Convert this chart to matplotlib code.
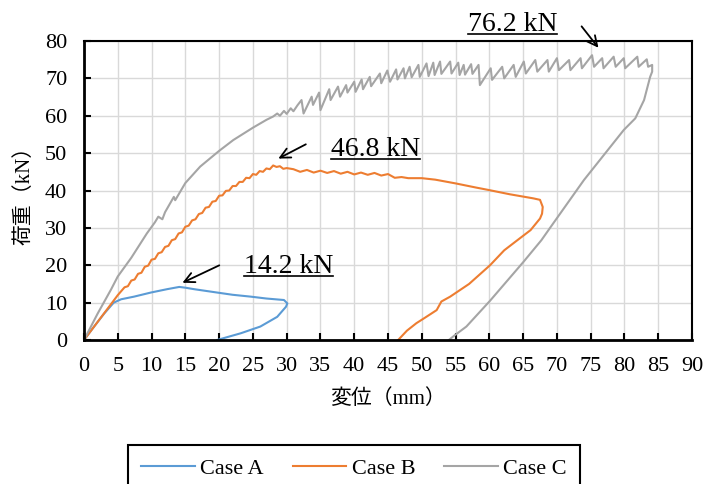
import matplotlib
matplotlib.use("Agg")
import matplotlib.pyplot as plt
from matplotlib.lines import Line2D

plt.rcParams['font.family'] = ['Liberation Serif', 'Noto Sans CJK JP']

# Case A
a_x = [0, 1.5, 3.0, 4.4, 5.5, 7.4, 9.9, 12.3, 14.1, 15, 16.3, 19.7, 22, 24.7, 27, 29.6,
       30.1, 29.9, 28.6, 26.1, 23.2, 19.7]
a_y = [0, 3.6, 7.1, 10.0, 10.9, 11.6, 12.7, 13.6, 14.2, 14.0, 13.6, 12.7, 12.1, 11.6, 11.1, 10.7,
       9.8, 8.9, 6.2, 3.6, 1.8, 0]

# Case B
b_x = [0, 2, 4, 5, 6, 6.5, 7, 7.5, 8, 8.5, 9, 9.5, 10, 10.5, 11, 11.5, 12, 12.5, 13, 13.5,
       14, 14.5, 15, 15.5, 16, 16.5, 17, 17.5, 18, 18.5, 19, 19.5, 20, 20.5, 21, 21.5, 22,
       22.5, 23, 23.5, 24, 24.5, 25, 25.5, 26, 26.5, 27, 27.5, 28, 28.5, 29, 29.5, 30,
       31, 32, 33, 34, 35, 36, 37, 38, 39, 40, 41, 42, 43, 44, 45, 46, 47, 48, 50, 52, 55,
       58, 60, 63, 66.5, 67.5, 67.9, 67.8, 67.5, 66.1, 64, 62.2, 60.1, 57, 54.2, 52.9, 52.2,
       50.5, 49.2, 47.8, 46.5]
b_y = [0, 4.8, 9.6, 12.0, 14.1, 14.4, 15.9, 16.2, 17.7, 18.0, 19.6, 19.9, 21.5, 21.7, 23.2,
       23.5, 24.9, 25.2, 26.7, 27.0, 28.5, 28.8, 30.3, 30.6, 32.0, 32.3, 33.7, 34.0, 35.4,
       35.6, 37.0, 37.2, 38.6, 38.7, 39.9, 40.0, 41.2, 41.2, 42.3, 42.3, 43.4, 43.3, 44.4,
       44.2, 45.2, 45.0, 45.9, 45.7, 46.7, 46.3, 46.5, 45.8, 46.0,
       45.7, 45.0, 45.5, 44.8, 45.3, 44.7, 45.2, 44.5, 45.0, 44.3, 44.8, 44.2, 44.7, 44.0,
       44.4, 43.4, 43.6, 43.3, 43.3, 42.9, 41.9, 40.8, 40.1, 39.0, 37.9, 37.5, 35.6, 33.8,
       32.5, 29.4, 26.5, 24.0, 20.0, 15.0, 11.6, 10.3, 8.0, 6.0, 4.5, 2.5, 0]

# Case C
c_x = [0, 2, 4, 5, 7, 9.3, 10.5, 11, 11.6, 12, 13.3, 13.5, 15, 17.2, 20, 22.1, 25, 27, 28,
       28.6, 29, 29.6, 30, 30.6, 31, 31.6, 32.2, 32.5, 33.7, 33.9, 34.8, 35.0, 36.3, 36.5,
       37.6, 37.9, 38.8, 39.0, 40.0, 40.2, 41.1, 41.3, 42.3, 42.5, 43.8, 44.0, 44.9, 45.3,
       46.2, 46.4, 47.3, 47.5, 48.2, 48.5, 49.5, 49.7, 50.7, 51.0, 51.7, 51.9, 52.7, 52.9,
       54.2, 54.4, 55.4, 55.6, 56.2, 56.4, 57.3, 57.5, 58.4, 58.6, 60.2, 60.4, 61.9, 62.2,
       63.6, 63.9, 65.1, 65.4, 66.8, 67.1, 68.6, 68.8, 70.0, 70.3, 71.8, 72.0, 73.5, 73.7,
       75.2, 75.5, 76.7, 76.9, 78.4, 78.7, 79.9, 80.1, 81.9, 82.1, 83.3, 83.5, 84.1, 84.1,
       83.8, 82.9, 81.6, 79.9, 74.0, 69.1, 67.7, 65.0, 60.1, 56.6, 54.9, 54.0]
c_y = [0, 7, 13.5, 17, 22, 28.5, 31.5, 33.0, 32.3, 34.2, 38.3, 37.4, 42.0, 46.4, 50.6, 53.5,
       56.8, 58.9, 59.8, 60.6, 60.0, 61.3, 60.5, 62.0, 61.2, 62.8, 64.2, 60.6, 65.1, 62.9,
       66.2, 61.5, 67.1, 64.2, 67.8, 65.1, 68.2, 66.2, 69.1, 66.4, 69.7, 67.1, 70.4, 67.9,
       71.3, 68.7, 72.1, 69.1, 72.4, 69.7, 72.7, 70.0, 73.1, 70.3, 73.6, 70.4, 74.0, 70.6,
       74.2, 70.9, 74.5, 71.2, 74.5, 71.3, 74.2, 70.9, 73.6, 71.0, 73.8, 71.2, 73.6, 68.2,
       72.7, 69.6, 73.1, 70.0, 73.6, 70.4, 74.5, 71.3, 74.9, 71.8, 74.9, 71.8, 75.4, 72.2,
       74.9, 72.2, 75.4, 72.7, 76.2, 73.1, 75.4, 72.7, 75.8, 73.1, 75.4, 72.7, 75.8, 73.1,
       75.1, 73.1, 73.6, 71.8, 70.4, 64.2, 59.3, 56.2, 42.8, 30.3, 26.7, 20.8, 10.5, 3.6,
       1.3, 0]

peak_labels = ['76.2 kN', '46.8 kN', '14.2 kN']
label_pos = [(63.4, 84.5), (43.1, 51.0), (30.3, 19.7)]
arrow_tail = [(73.4, 84.5), (33.2, 52.7), (20.4, 20.3)]
arrow_head = [(76.4, 77.6), (28.4, 48.2), (14.2, 15.0)]

fig = plt.figure(figsize=(7.04, 4.84), dpi=100)
ax = fig.add_axes([0.1193, 0.2975, 0.8637, 0.6178])

ax.plot(a_x, a_y, color='#5B9BD5', lw=1.5, label='Case A')
ax.plot(b_x, b_y, color='#ED7D31', lw=1.5, label='Case B')
ax.plot(c_x, c_y, color='#A5A5A5', lw=1.5, label='Case C')

ax.set_xlim(0, 90)
ax.set_ylim(0, 80)
ax.set_xticks(range(0, 91, 5))
ax.set_yticks(range(0, 81, 10))
ax.grid(True, color='#D9D9D9', lw=1)
ax.set_axisbelow(True)
ax.tick_params(direction='in', length=5, width=1.5, labelsize=16, pad=12)
ax.spines['left'].set_linewidth(2)
ax.spines['bottom'].set_linewidth(2)
ax.spines['top'].set_linewidth(1.5)
ax.spines['right'].set_linewidth(1.5)

ax.set_xlabel('変位（mm）', fontsize=15, labelpad=10)
ax.set_ylabel('荷重（kN）', fontsize=15, labelpad=8)

arrow = dict(arrowstyle='->', color='black', lw=1.3, mutation_scale=18)
texts = []
for lab, pos, tail, head in zip(peak_labels, label_pos, arrow_tail, arrow_head):
    ax.annotate('', xy=head, xytext=tail, arrowprops=arrow, annotation_clip=False)
    texts.append(ax.text(pos[0], pos[1], lab, fontsize=20, ha='center', va='center'))

leg = fig.legend(loc='upper center', bbox_to_anchor=(0.503, 1 - 445 / 484), ncol=3,
                 fontsize=16, handlelength=2.4, handletextpad=0.25, columnspacing=1.3,
                 borderpad=0.6, borderaxespad=0, fancybox=False, edgecolor='black',
                 framealpha=1)
leg.get_frame().set_linewidth(1.5)

# underline the peak labels
fig.canvas.draw()
r = fig.canvas.get_renderer()
inv = fig.transFigure.inverted()
for t in texts:
    bb = t.get_window_extent(r)
    (x0, y0), (x1, _) = inv.transform([(bb.x0, bb.y0 + 3), (bb.x1, bb.y0)])
    fig.add_artist(Line2D([x0, x1], [y0, y0], color='black', lw=1.2))

fig.savefig('out.png', dpi=100)
